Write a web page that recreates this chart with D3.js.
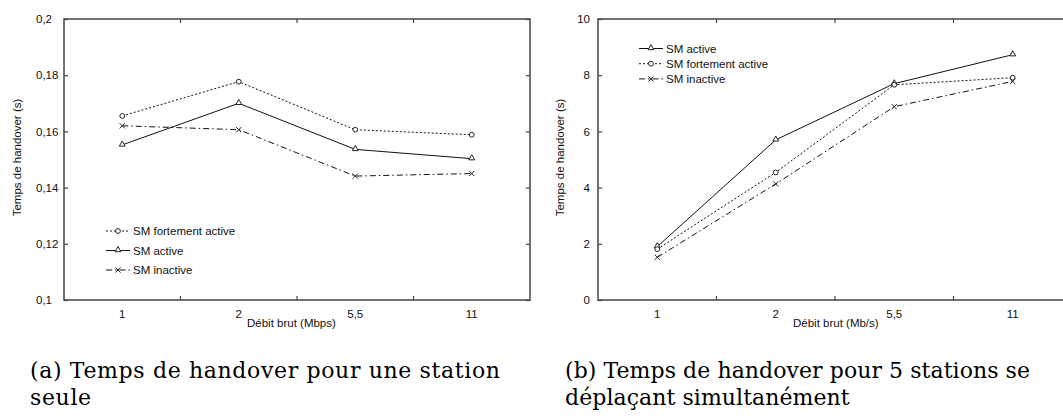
<!DOCTYPE html>
<html>
<head>
<meta charset="utf-8">
<script src="https://cdn.jsdelivr.net/npm/d3@7"></script>
<style>
  body { margin: 0; background: #fff; }
  svg { display: block; }
  .sans { font-family: "Liberation Sans", Arial, Helvetica, sans-serif; font-size: 11.5px; fill: #111; }
  .cap { font-family: "DejaVu Serif", "Liberation Serif", serif; fill: #000; }
</style>
</head>
<body>
<svg id="fig" width="1063" height="418"></svg>
<script>
// Raw bit rates (categories on the x axis)
const rates = ["1", "2", "5,5", "11"];

// (a) single station: handover time in seconds
const aFortement = [0.1655, 0.1777, 0.1606, 0.1588];
const aActive    = [0.1552, 0.1700, 0.1536, 0.1503];
const aInactive  = [0.1620, 0.1606, 0.1441, 0.1450];
const aTicks     = [0.1, 0.12, 0.14, 0.16, 0.18, 0.2];

// (b) five stations moving together: handover time in seconds
const bActive    = [1.90, 5.70, 7.70, 8.73];
const bFortement = [1.81, 4.54, 7.66, 7.91];
const bInactive  = [1.52, 4.13, 6.88, 7.78];
const bTicks     = [0, 2, 4, 6, 8, 10];

const legendNames = {
  fortement: "SM fortement active",
  active: "SM active",
  inactive: "SM inactive"
};

// line dash and marker per series
const styles = {
  active:    { dash: null,          marker: "triangle" },
  fortement: { dash: "2,2",         marker: "circle" },
  inactive:  { dash: "6,3,1.5,3",   marker: "cross" }
};

const svg = d3.select("#fig");
const fmt = v => d3.format("~g")(v).replace(".", ",");

function drawMarker(g, kind, cx, cy) {
  if (kind === "circle") {
    g.append("circle").attr("cx", cx).attr("cy", cy).attr("r", 2.4)
      .attr("fill", "#fff").attr("stroke", "#222").attr("stroke-width", 1);
  } else if (kind === "triangle") {
    g.append("path").attr("d", d3.symbol(d3.symbolTriangle, 15)())
      .attr("transform", `translate(${cx},${cy - 0.5})`)
      .attr("fill", "#fff").attr("stroke", "#222").attr("stroke-width", 1);
  } else {
    const s = 2.6;
    g.append("path")
      .attr("d", `M${cx - s},${cy - s}L${cx + s},${cy + s}M${cx - s},${cy + s}L${cx + s},${cy - s}`)
      .attr("stroke", "#222").attr("stroke-width", 1).attr("fill", "none");
  }
}

function drawPanel(cfg) {
  const g = svg.append("g");
  const x = d3.scaleBand().domain(rates).range([cfg.x0, cfg.x1]).padding(0);
  const y = d3.scaleLinear().domain(cfg.yDomain).range([cfg.y1, cfg.y0]);
  const cx = d => x(d) + x.bandwidth() / 2;

  // left axis with inward ticks
  const yAxis = d3.axisLeft(y).tickValues(cfg.yTicks).tickFormat(fmt)
    .tickSizeInner(-4).tickSizeOuter(0).tickPadding(cfg.yLabelPad);
  const ya = g.append("g").attr("transform", `translate(${cfg.x0},0)`).call(yAxis);
  ya.select(".domain").remove();
  ya.selectAll(".tick line").attr("stroke", "#444").attr("stroke-width", 1.2);
  ya.selectAll(".tick text").attr("class", "sans").attr("font-size", null)
    .attr("font-family", null).attr("fill", null)
    .attr("text-anchor", cfg.yLabelAnchor);

  // mirrored ticks on the right side
  const yr = d3.axisRight(y).tickValues(cfg.yTicks).tickFormat("")
    .tickSizeInner(-4).tickSizeOuter(0);
  const yra = g.append("g").attr("transform", `translate(${cfg.x1},0)`).call(yr);
  yra.select(".domain").remove();
  yra.selectAll(".tick line").attr("stroke", "#444").attr("stroke-width", 1.2);

  // band boundary ticks, bottom and top
  const bounds = rates.slice(1).map(d => x(d));
  g.selectAll(".bt").data(bounds).enter().append("line")
    .attr("x1", d => d).attr("x2", d => d)
    .attr("y1", cfg.y1).attr("y2", cfg.y1 - 4)
    .attr("stroke", "#444").attr("stroke-width", 1.2);
  g.selectAll(".tt").data(bounds).enter().append("line")
    .attr("x1", d => d).attr("x2", d => d)
    .attr("y1", cfg.y0).attr("y2", cfg.y0 + 4)
    .attr("stroke", "#444").attr("stroke-width", 1.2);

  // frame
  g.append("rect").attr("x", cfg.x0).attr("y", cfg.y0)
    .attr("width", cfg.x1 - cfg.x0).attr("height", cfg.y1 - cfg.y0)
    .attr("fill", "none").attr("stroke", "#444").attr("stroke-width", 1.5);

  // category labels
  g.selectAll(".xl").data(rates).enter().append("text")
    .attr("class", "sans").attr("x", cx).attr("y", cfg.y1 + 18)
    .attr("text-anchor", "middle").text(d => d);

  // axis titles
  g.append("text").attr("class", "sans")
    .attr("x", cfg.xTitleX).attr("y", cfg.y1 + 27).text(cfg.xTitle);
  g.append("text").attr("class", "sans")
    .attr("transform", `translate(${cfg.yTitleX},${(cfg.y0 + cfg.y1) / 2 - 2}) rotate(-90)`)
    .attr("text-anchor", "middle").text("Temps de handover (s)");

  // series
  const line = d3.line().x((v, i) => cx(rates[i])).y(v => y(v));
  cfg.series.forEach(s => {
    const st = styles[s.key];
    g.append("path").datum(s.values).attr("d", line)
      .attr("fill", "none").attr("stroke", "#111").attr("stroke-width", 1)
      .attr("stroke-dasharray", st.dash);
  });
  cfg.series.forEach(s => {
    const st = styles[s.key];
    s.values.forEach((v, i) => drawMarker(g, st.marker, cx(rates[i]), y(v)));
  });

  // legend
  cfg.legendOrder.forEach((k, i) => {
    const ly = cfg.legendY + i * cfg.legendGap;
    const st = styles[k];
    g.append("line").attr("x1", cfg.legendX).attr("x2", cfg.legendX + 24)
      .attr("y1", ly).attr("y2", ly)
      .attr("stroke", "#111").attr("stroke-width", 1)
      .attr("stroke-dasharray", st.dash);
    drawMarker(g, st.marker, cfg.legendX + 12, ly);
    g.append("text").attr("class", "sans")
      .attr("x", cfg.legendX + 27).attr("y", ly).attr("dy", "0.35em")
      .text(legendNames[k]);
  });
}

drawPanel({
  x0: 64, x1: 530, y0: 19, y1: 300,
  yDomain: [0.1, 0.2], yTicks: aTicks,
  yLabelPad: 28, yLabelAnchor: "start",
  xTitle: "Débit brut (Mbps)", xTitleX: 247, yTitleX: 21,
  series: [
    { key: "fortement", values: aFortement },
    { key: "active", values: aActive },
    { key: "inactive", values: aInactive }
  ],
  legendOrder: ["fortement", "active", "inactive"],
  legendX: 106, legendY: 231, legendGap: 19.5
});

drawPanel({
  x0: 598, x1: 1072, y0: 19, y1: 300,
  yDomain: [0, 10], yTicks: bTicks,
  yLabelPad: 8, yLabelAnchor: "end",
  xTitle: "Débit brut (Mb/s)", xTitleX: 793, yTitleX: 564,
  series: [
    { key: "active", values: bActive },
    { key: "fortement", values: bFortement },
    { key: "inactive", values: bInactive }
  ],
  legendOrder: ["active", "fortement", "inactive"],
  legendX: 639, legendY: 48.5, legendGap: 15.2
});

// sub-figure captions: first line spread to the caption width
const captionSize = 22;
const captions = [
  { x: 30, width: 470, lines: ["(a) Temps de handover pour une station", "seule"] },
  { x: 565, width: 465, lines: ["(b) Temps de handover pour 5 stations se", "déplaçant simultanément"] }
];
captions.forEach(c => {
  const t = svg.append("text").attr("class", "cap").attr("x", c.x).attr("y", 378)
    .attr("font-size", captionSize).text(c.lines[0]);
  const w = t.node().getComputedTextLength();
  const ls = (c.width - w) / (c.lines[0].length - 1);
  t.attr("letter-spacing", ls);
  svg.append("text").attr("class", "cap").attr("x", c.x).attr("y", 405)
    .attr("font-size", captionSize).attr("letter-spacing", ls).text(c.lines[1]);
});
</script>
</body>
</html>
